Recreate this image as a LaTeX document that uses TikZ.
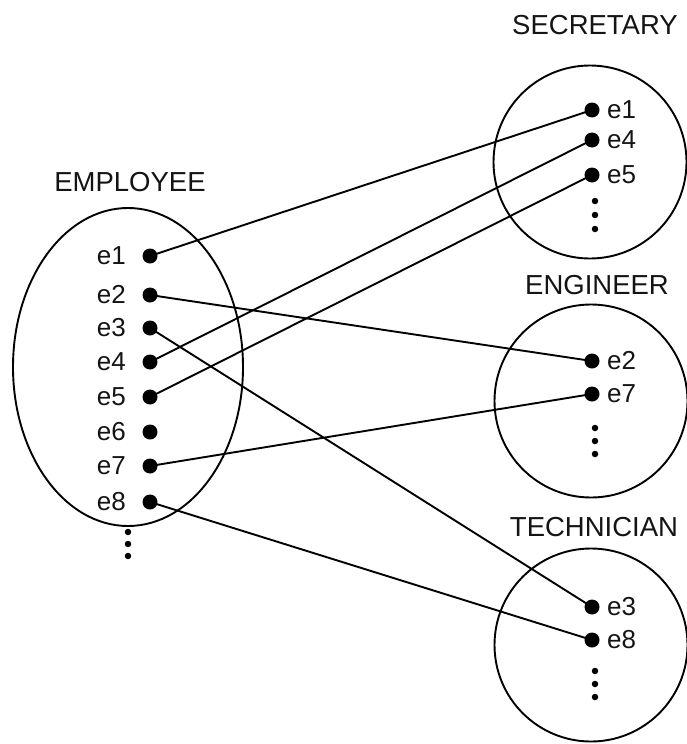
\documentclass[tikz,border=0pt]{standalone}
\usepackage{fontspec}
\setmainfont{Liberation Sans}
\usetikzlibrary{shapes.geometric}
\begin{document}
\begin{tikzpicture}[x=1pt,y=-1pt,
  setshape/.style={draw=black,line width=1.9pt},
  pt/.style={circle,fill=black,inner sep=0pt,minimum size=15pt},
  lbl/.style={inner sep=0pt,font=\fontsize{26}{28}\selectfont,text=black!92},
  title/.style={inner sep=0pt,font=\fontsize{27.5}{30}\selectfont,text=black!92},
  link/.style={line width=1.9pt,black},
  vd/.style={circle,fill=black,inner sep=0pt,minimum size=6.5pt}]
\useasboundingbox (0,0) rectangle (686,744);
% sets
\node[setshape,ellipse,minimum width=230pt,minimum height=318pt,inner sep=0pt] (emp) at (128,367) {};
\node[setshape,circle,minimum size=193pt,inner sep=0pt] (sec) at (590,162) {};
\node[setshape,circle,minimum size=193pt,inner sep=0pt] (eng) at (591,401) {};
\node[setshape,circle,minimum size=193pt,inner sep=0pt] (tec) at (591,645) {};
% titles
\node[title] (tEmp) at (130,182) {EMPLOYEE};
\node[title] (tSec) at (595,25) {SECRETARY};
\node[title] (tEng) at (597,285) {ENGINEER};
\node[title] (tTec) at (594,527) {TECHNICIAN};
% left points
\foreach \i/\y in {1/256,2/295,3/328,4/362,5/397,6/432,7/466,8/502}{
  \node[pt] (L\i) at (150,\y) {};
  \node[lbl,anchor=east] (Ll\i) at (126,\y) {e\i};
}
% secretary points
\foreach \i/\y in {1/110,4/140,5/175}{
  \node[pt] (S\i) at (592,\y) {};
  \node[lbl,anchor=west] (Sl\i) at (607,\y) {e\i};
}
% engineer points
\foreach \i/\y in {2/361,7/394}{
  \node[pt] (G\i) at (592,\y) {};
  \node[lbl,anchor=west] (Gl\i) at (607,\y) {e\i};
}
% technician points
\foreach \i/\y in {3/607,8/640}{
  \node[pt] (T\i) at (592,\y) {};
  \node[lbl,anchor=west] (Tl\i) at (607,\y) {e\i};
}
% vertical ellipses
\foreach \n/\x/\y in {a/128/532,b/128/544,c/128/556,
                      d/595/201,e/595/215,f/595/229,
                      g/595/428,h/595/441,i/595/454,
                      j/595/671,k/595/684,l/595/697}{
  \node[vd] (v\n) at (\x,\y) {};
}
% links
\draw[link] (L1.center) -- (S1.center);
\draw[link] (L4.center) -- (S4.center);
\draw[link] (L5.center) -- (S5.center);
\draw[link] (L2.center) -- (G2.center);
\draw[link] (L7.center) -- (G7.center);
\draw[link] (L3.center) -- (T3.center);
\draw[link] (L8.center) -- (T8.center);
\end{tikzpicture}
\end{document}
